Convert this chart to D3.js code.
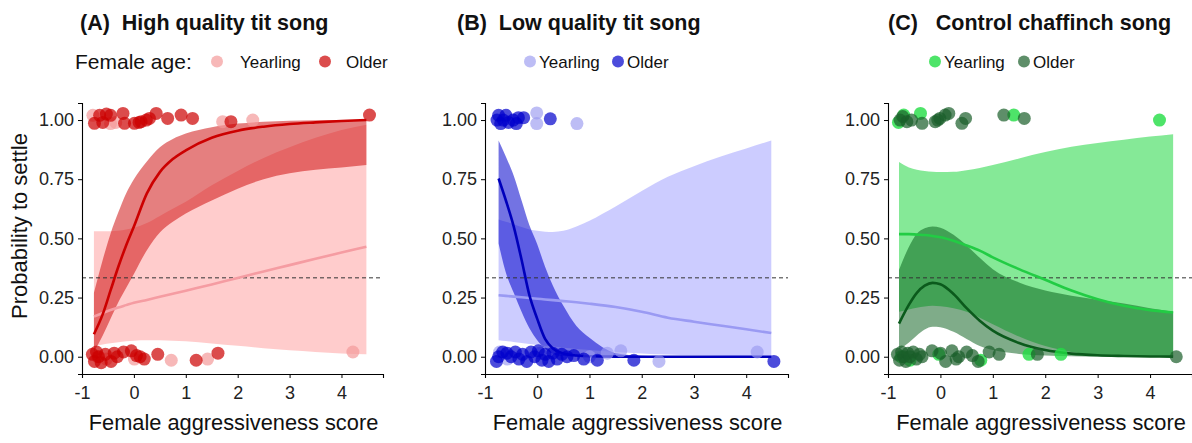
<!DOCTYPE html>
<html><head><meta charset="utf-8">
<script src="https://cdn.jsdelivr.net/npm/d3@7"></script>
<style>
body{margin:0;background:#fff;}
svg text{font-family:"Liberation Sans",Arial,sans-serif;white-space:pre;}
</style></head><body>
<svg id="c" width="1192" height="443"></svg>
<script>
// ---------- data ----------
const xTicks = [-1, 0, 1, 2, 3, 4];
const yTicks = [0, 0.25, 0.5, 0.75, 1];
const panelTitles = ["(A)  High quality tit song", "(B)  Low quality tit song", "(C)   Control chaffinch song"];
const ageGroups = ["Yearling", "Older"];
const xLabel = "Female aggressiveness score";
const yLabel = "Probability to settle";
const threshold = 1 / 3;

// Panel A
const gridA = [-0.77,-0.6,-0.45,-0.3,-0.15,0,0.25,0.5,0.75,1,1.5,2,2.5,3,3.5,4,4.48];
const aYearFit = [0.17,0.185,0.197,0.208,0.218,0.228,0.24,0.253,0.266,0.279,0.305,0.333,0.36,0.387,0.414,0.44,0.465];
const aYearHi  = [0.53,0.53,0.53,0.532,0.537,0.545,0.565,0.595,0.625,0.655,0.725,0.785,0.84,0.885,0.925,0.958,0.98];
const aYearLo  = [0.045,0.052,0.057,0.061,0.065,0.068,0.07,0.07,0.068,0.065,0.056,0.046,0.036,0.027,0.02,0.014,0.01];
const aOldFit  = [0.095,0.18,0.28,0.38,0.47,0.55,0.69,0.78,0.835,0.872,0.925,0.955,0.972,0.983,0.99,0.996,1.0];
const aOldHi   = [0.27,0.41,0.52,0.61,0.69,0.75,0.825,0.885,0.92,0.943,0.97,0.985,0.993,0.997,0.999,1.0,1.0];
const aOldLo   = [0.02,0.09,0.16,0.23,0.29,0.35,0.45,0.525,0.57,0.605,0.66,0.71,0.75,0.775,0.79,0.80,0.81];
const aYearPtsX = [-0.79,-0.45,-0.35,1.71,2.29,-0.7,-0.53,0.01,0.72,1.42,4.22];
const aYearPtsY = [1.02,0.985,0.99,0.993,1.0,0.0,-0.01,-0.01,-0.015,-0.01,0.02];
const aOldPtsX = [-0.76,-0.66,-0.6,-0.53,-0.45,-0.21,-0.18,0.01,0.1,0.14,0.24,0.3,0.43,0.65,0.91,1.13,1.87,4.54,
  -0.8,-0.76,-0.72,-0.68,-0.63,-0.55,-0.44,-0.38,-0.32,-0.2,-0.05,0.05,0.12,0.2,0.46,1.2,1.62];
const aOldPtsY = [0.986,1.02,0.99,1.025,1.02,1.028,0.986,0.986,0.99,0.993,1.0,1.007,1.028,1.007,1.021,1.007,0.993,1.021,
  0.01,-0.02,0.02,0.0,-0.025,0.01,-0.02,0.015,0.0,0.02,0.025,0.005,0.0,-0.01,0.01,-0.015,0.015];

// Panel B
const gridB = [-0.74,-0.6,-0.45,-0.3,-0.15,0,0.15,0.3,0.5,0.75,1,1.5,2,2.5,3,3.5,4,4.48];
const bYearFit = [0.26,0.257,0.254,0.251,0.248,0.245,0.242,0.239,0.235,0.23,0.224,0.21,0.19,0.165,0.148,0.132,0.116,0.10];
const bYearHi  = [0.58,0.57,0.56,0.548,0.538,0.532,0.528,0.527,0.532,0.55,0.575,0.635,0.70,0.76,0.805,0.845,0.88,0.914];
const bYearLo  = [0.07,0.066,0.062,0.058,0.054,0.05,0.046,0.043,0.038,0.033,0.028,0.02,0.014,0.009,0.006,0.004,0.003,0.002];
const bOldFit  = [0.753,0.66,0.55,0.41,0.26,0.16,0.075,0.035,0.014,0.005,0.002,0.0005,0.0002,0.0001,0,0,0,0];
const bOldHi   = [0.914,0.845,0.765,0.66,0.555,0.475,0.38,0.30,0.215,0.13,0.08,0.016,0.004,0.001,0,0,0,0];
const bOldLo   = [0.478,0.355,0.27,0.19,0.12,0.07,0.035,0.012,0.003,0.001,0,0,0,0,0,0,0,0];
const bYearPtsX = [-0.01,-0.01,0.76,-0.72,-0.57,0.05,1.0,1.34,1.6,2.33,4.21];
const bYearPtsY = [1.03,0.985,0.985,0.02,-0.01,0.015,0.0,0.015,0.025,-0.02,0.02];
const bOldPtsX = [-0.77,-0.74,-0.7,-0.65,-0.6,-0.55,-0.46,-0.4,-0.36,-0.26,0.25,
  -0.78,-0.74,-0.66,-0.58,-0.5,-0.42,-0.35,-0.28,-0.2,-0.12,-0.05,0.02,0.09,0.15,0.22,0.3,0.38,0.47,0.57,0.7,0.89,1.15,1.85,4.53];
const bOldPtsY = [1.0,1.02,0.985,1.0,1.02,0.99,1.0,0.985,1.01,1.01,1.005,
  -0.02,0.0,0.02,0.015,0.0,0.02,-0.01,0.01,-0.02,0.02,0.0,0.025,-0.015,0.01,-0.02,0.015,-0.01,0.01,0.0,0.005,-0.01,-0.015,-0.015,-0.02];

// Panel C
const gridC = [-0.79,-0.6,-0.45,-0.3,-0.15,0,0.25,0.5,0.75,1,1.5,2,2.5,3,3.5,4,4.44];
const cYearFit = [0.518,0.518,0.516,0.514,0.51,0.505,0.49,0.47,0.448,0.42,0.37,0.325,0.28,0.243,0.215,0.197,0.187];
const cYearHi  = [0.823,0.8,0.79,0.785,0.782,0.78,0.781,0.788,0.797,0.81,0.838,0.865,0.887,0.903,0.917,0.93,0.94];
const cYearLo  = [0.19,0.2,0.207,0.212,0.215,0.213,0.205,0.19,0.165,0.137,0.085,0.045,0.02,0.008,0.003,0.001,0.0005];
const cOldFit  = [0.14,0.22,0.27,0.3,0.312,0.306,0.265,0.205,0.152,0.11,0.058,0.028,0.013,0.006,0.003,0.001,0.0005];
const cOldHi   = [0.366,0.465,0.52,0.543,0.55,0.545,0.515,0.47,0.418,0.37,0.314,0.28,0.258,0.241,0.225,0.205,0.19];
const cOldLo   = [0.03,0.06,0.09,0.115,0.127,0.125,0.105,0.075,0.045,0.028,0.012,0.005,0.002,0.001,0,0,0];
const cYearPtsX = [-0.8,-0.7,-0.38,1.4,4.18,-0.75,-0.58,-0.03,0.77,1.69,2.3];
const cYearPtsY = [0.99,1.021,1.028,1.021,1.0,0.0,-0.015,0.01,-0.015,0.01,0.01];
const cOldPtsX = [-0.77,-0.72,-0.64,-0.55,-0.35,-0.1,-0.05,-0.01,0.09,0.16,0.41,0.48,1.21,1.6,
  -0.82,-0.78,-0.74,-0.7,-0.66,-0.62,-0.58,-0.52,-0.46,-0.4,-0.35,-0.16,0.0,0.1,0.22,0.3,0.35,0.5,0.61,0.72,0.93,1.12,1.85,4.5];
const cOldPtsY = [1.0,1.015,0.993,1.0,0.986,0.993,1.0,1.007,1.021,1.028,0.986,1.007,1.021,1.007,
  0.01,-0.015,0.02,0.0,-0.02,0.015,0.0,0.02,-0.01,0.01,0.0,0.025,0.015,-0.02,0.025,-0.01,0.0,0.02,0.005,-0.02,0.02,0.01,0.01,0.0];

// ---------- styling / layout ----------
const panels = [
  {left:82, right:383, titleX:80, grid:gridA,
   year:{fit:aYearFit, lo:aYearLo, hi:aYearHi, px:aYearPtsX, py:aYearPtsY, ribbon:"#ff9999", ribbonOp:0.5, line:"#f59ca2", pt:"#f39a9a", ptOp:0.7},
   old:{fit:aOldFit, lo:aOldLo, hi:aOldHi, px:aOldPtsX, py:aOldPtsY, ribbon:"#cc0000", ribbonOp:0.5, line:"#cc0000", pt:"#cc0000", ptOp:0.7},
   legend:{title:"Female age:", titleX:75, items:[{dot:217, text:240},{dot:325, text:346}]}},
  {left:485, right:788, titleX:457, grid:gridB,
   year:{fit:bYearFit, lo:bYearLo, hi:bYearHi, px:bYearPtsX, py:bYearPtsY, ribbon:"#9999ff", ribbonOp:0.5, line:"#9a9af3", pt:"#9999f0", ptOp:0.65},
   old:{fit:bOldFit, lo:bOldLo, hi:bOldHi, px:bOldPtsX, py:bOldPtsY, ribbon:"#0000cc", ribbonOp:0.55, line:"#0000bb", pt:"#0000cc", ptOp:0.7},
   legend:{title:null, items:[{dot:530, text:539},{dot:618, text:627}]}},
  {left:888, right:1192, titleX:888, grid:gridC,
   year:{fit:cYearFit, lo:cYearLo, hi:cYearHi, px:cYearPtsX, py:cYearPtsY, ribbon:"#0bd42f", ribbonOp:0.5, line:"#22cc44", pt:"#22dd44", ptOp:0.8},
   old:{fit:cOldFit, lo:cOldLo, hi:cOldHi, px:cOldPtsX, py:cOldPtsY, ribbon:"#005a14", ribbonOp:0.5, line:"#0b5a1c", pt:"#1a5e2a", ptOp:0.7},
   legend:{title:null, items:[{dot:935, text:944},{dot:1024, text:1033}]}}
];

const svg = d3.select("#c");
const y = d3.scaleLinear().domain([-0.073, 1.072]).range([374, 103]);

panels.forEach((p, pi) => {
  const x = d3.scaleLinear().domain([-1, 4.8]).range([p.left, p.right]);
  const g = svg.append("g");
  const area = d3.area().curve(d3.curveMonotoneX)
    .x(d => x(d.x)).y0(d => y(d.lo)).y1(d => y(d.hi));
  const line = d3.line().curve(d3.curveMonotoneX).x(d => x(d.x)).y(d => y(d.f));
  const rows = s => p.grid.map((gx, i) => ({x: gx, lo: s.lo[i], hi: s.hi[i], f: s.fit[i]}));

  [p.year, p.old].forEach(s => {
    g.append("path").datum(rows(s)).attr("d", area)
      .attr("fill", s.ribbon).attr("fill-opacity", s.ribbonOp);
  });
  g.append("line").attr("x1", p.left).attr("x2", p.right)
    .attr("y1", y(threshold)).attr("y2", y(threshold))
    .attr("stroke", "#333").attr("stroke-width", 1).attr("stroke-dasharray", "4,3");
  [p.year, p.old].forEach(s => {
    g.append("path").datum(rows(s)).attr("d", line)
      .attr("fill", "none").attr("stroke", s.line).attr("stroke-width", 2.6);
  });
  [p.year, p.old].forEach(s => {
    g.selectAll(null).data(s.px.map((v, i) => [v, s.py[i]])).enter().append("circle")
      .attr("cx", d => x(d[0])).attr("cy", d => y(d[1])).attr("r", 6.5)
      .attr("fill", s.pt).attr("fill-opacity", s.ptOp);
  });

  // axes
  const ya = g.append("g").attr("transform", `translate(${p.left},0)`)
    .call(d3.axisLeft(y).tickValues(yTicks).tickFormat(d3.format(".2f")).tickSizeOuter(0).tickSize(4).tickPadding(4));
  const xa = g.append("g").attr("transform", `translate(0,374)`)
    .call(d3.axisBottom(x).tickValues(xTicks).tickFormat(d3.format("d")).tickSizeOuter(0).tickSize(4).tickPadding(8));
  [ya, xa].forEach(a => {
    a.select(".domain").attr("stroke", "#000").attr("stroke-width", 1.1);
    a.selectAll(".tick line").attr("stroke", "#000");
    a.selectAll(".tick text").attr("font-size", 18).attr("fill", "#222")
      .style("font-family", '"Liberation Sans",Arial,sans-serif');
  });
  xa.selectAll(".tick text").text(d => d < 0 ? "-" + Math.abs(d) : d);

  // x label
  g.append("text").attr("x", (p.left + p.right) / 2 + 1).attr("y", 430)
    .attr("text-anchor", "middle").attr("font-size", 21.8).attr("fill", "#111").text(xLabel);

  // title
  g.append("text").attr("x", p.titleX).attr("y", 30).attr("font-size", 21.5)
    .attr("font-weight", "bold").attr("fill", "#111").text(panelTitles[pi]);

  // legend
  if (p.legend.title) {
    g.append("text").attr("x", p.legend.titleX).attr("y", 69).attr("font-size", 21)
      .attr("fill", "#111").text(p.legend.title);
  }
  [p.year, p.old].forEach((s, k) => {
    const it = p.legend.items[k];
    g.append("circle").attr("cx", it.dot).attr("cy", 61.5).attr("r", 6)
      .attr("fill", s.pt).attr("fill-opacity", s.ptOp);
    g.append("text").attr("x", it.text).attr("y", 68).attr("font-size", 17)
      .attr("fill", "#111").text(ageGroups[k]);
  });
});

// y label
svg.append("text").attr("transform", "translate(27,226) rotate(-90)")
  .attr("text-anchor", "middle").attr("font-size", 22).attr("fill", "#111").text(yLabel);
</script>
</body></html>
